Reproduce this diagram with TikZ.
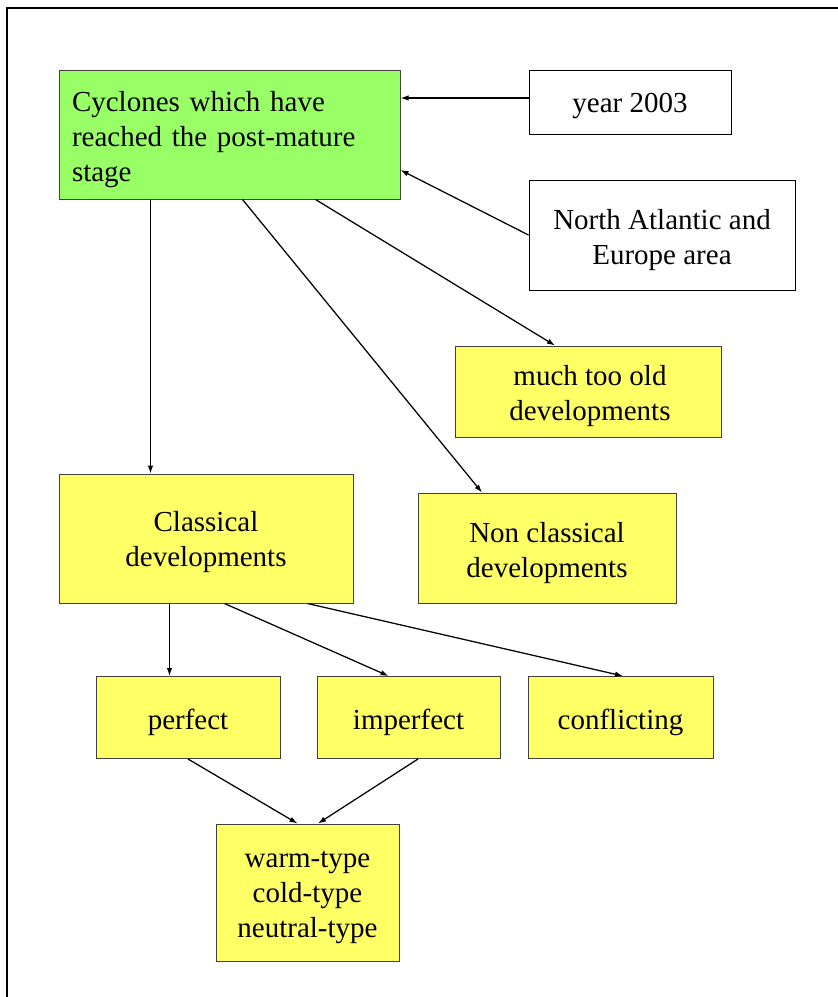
\documentclass[tikz,border=0pt]{standalone}
\usepackage{fontspec}
\setmainfont{Liberation Serif}
\usetikzlibrary{arrows.meta}
\definecolor{boxgreen}{HTML}{99FF66}
\definecolor{boxyellow}{HTML}{FFFF66}
\begin{document}
\begin{tikzpicture}[x=1pt,y=-1pt,
  base/.style={rectangle,inner sep=0pt,line width=1pt},
  ybox/.style={base,draw=black!75,fill=boxyellow},
  wbox/.style={base,draw=black,fill=white},
  gbox/.style={base,draw=black!75,fill=boxgreen},
  txt/.style={inner sep=0pt,font=\fontsize{29}{35}\selectfont,align=center},
  arr/.style={line width=1.25pt,-{Latex[length=8pt,width=5.5pt]}}]
\useasboundingbox (0,0) rectangle (838,997);
\fill[white] (0,0) rectangle (838,997);
\draw[line width=2pt] (7,997) -- (7,7.5) -- (838,7.5);

\node[gbox,minimum width=341,minimum height=129] (green) at (229.5,134.5) {};
\node[wbox,minimum width=202,minimum height=64] (year) at (630,102) {};
\node[wbox,minimum width=266,minimum height=110] (na) at (662,235) {};
\node[ybox,minimum width=266,minimum height=91] (old) at (588,391.5) {};
\node[ybox,minimum width=258,minimum height=110] (noncl) at (547,548) {};
\node[ybox,minimum width=294,minimum height=129] (cls) at (206,538.5) {};
\node[ybox,minimum width=184,minimum height=82] (perf) at (188,717.5) {};
\node[ybox,minimum width=183,minimum height=82] (imperf) at (408.5,717.5) {};
\node[ybox,minimum width=185,minimum height=82] (conf) at (620.5,717.5) {};
\node[ybox,minimum width=183,minimum height=137] (warm) at (307.5,892.5) {};

\node[txt,text width=315,align=left] (tgreen) at ([yshift=-5pt]green.center) {Cyclones which have\\reached the post-mature\\stage};
\node[txt] (tyear) at ([yshift=-4pt]year.center) {year 2003};
\node[txt] (tna) at ([yshift=-5pt]na.center) {North Atlantic and\\Europe area};
\node[txt] (told) at ([xshift=2pt,yshift=-5pt]old.center) {much too old\\developments};
\node[txt] (tnoncl) at ([yshift=-5pt]noncl.center) {Non classical\\developments};
\node[txt] (tcls) at ([yshift=-4pt]cls.center) {Classical\\developments};
\node[txt] (tperf) at ([yshift=-5pt]perf.center) {perfect};
\node[txt] (timperf) at ([yshift=-5pt]imperf.center) {imperfect};
\node[txt] (tconf) at ([yshift=-5pt]conf.center) {conflicting};
\node[txt] (twarm) at ([yshift=-5pt]warm.center) {warm-type\\cold-type\\neutral-type};

\draw[arr] ([yshift=4pt]year.west) -- ([yshift=4pt]year.west -| green.east);
\draw[arr] (na.west) -- ([yshift=-35.5pt]green.east);
\draw[arr] ([xshift=92pt]green.south west) -- ([xshift=92pt]green.south west |- cls.north);
\draw[arr] ([xshift=184pt]green.south west) -- ([xshift=-65pt]noncl.north);
\draw[arr] ([xshift=257pt]green.south west) -- ([xshift=-33pt]old.north);
\draw[arr] ([xshift=111pt]cls.south west) -- ([xshift=111pt]cls.south west |- perf.north);
\draw[arr] ([xshift=166pt]cls.south west) -- ([xshift=-20pt]imperf.north);
\draw[arr] ([xshift=249pt]cls.south west) -- ([xshift=2.5pt]conf.north);
\draw[arr] (perf.south) -- ([xshift=-10pt]warm.north);
\draw[arr] ([xshift=9.5pt]imperf.south) -- ([xshift=10.5pt]warm.north);
\end{tikzpicture}
\end{document}
